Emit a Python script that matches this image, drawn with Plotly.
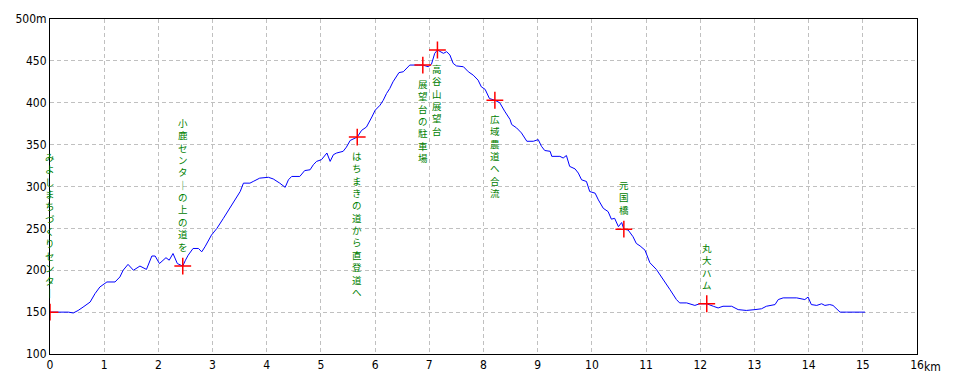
import plotly.graph_objects as go

# ---- profile data (distance km, elevation m) ----
distance_km = [
    0.00, 0.34, 0.43, 0.52, 0.61, 0.74, 0.83, 0.92, 1.05, 1.20,
    1.29, 1.35, 1.44, 1.54, 1.66, 1.78, 1.88, 1.94, 2.02, 2.14,
    2.20, 2.27, 2.35, 2.40, 2.45, 2.50, 2.55, 2.64, 2.74, 2.80,
    2.86, 2.98, 3.08, 3.20, 3.32, 3.41, 3.51, 3.57, 3.69, 3.75,
    3.87, 4.03, 4.12, 4.24, 4.34, 4.40, 4.46, 4.61, 4.70, 4.80,
    4.86, 4.92, 5.01, 5.11, 5.17, 5.23, 5.29, 5.41, 5.47, 5.54,
    5.60, 5.67, 5.75, 5.84, 5.94, 6.00, 6.09, 6.15, 6.21, 6.27,
    6.33, 6.40, 6.44, 6.52, 6.58, 6.64, 6.80, 6.88, 6.98, 7.04,
    7.10, 7.15, 7.26, 7.32, 7.38, 7.44, 7.50, 7.63, 7.72, 7.81,
    7.90, 7.96, 8.03, 8.11, 8.21, 8.30, 8.39, 8.49, 8.52, 8.61,
    8.70, 8.80, 8.92, 9.01, 9.07, 9.13, 9.23, 9.26, 9.41, 9.47,
    9.53, 9.59, 9.69, 9.75, 9.81, 9.90, 9.96, 10.06, 10.12, 10.21,
    10.30, 10.36, 10.42, 10.49, 10.55, 10.59, 10.67, 10.76, 10.82, 10.89,
    10.98, 11.07, 11.19, 11.32, 11.44, 11.56, 11.62, 11.75, 11.90, 11.99,
    12.12, 12.24, 12.33, 12.42, 12.58, 12.70, 12.85, 13.01, 13.13, 13.22,
    13.32, 13.38, 13.44, 13.53, 13.78, 13.93, 13.99, 14.05, 14.15, 14.24,
    14.30, 14.39, 14.45, 14.58, 14.70, 15.04,
]

elevation_m = [
    150, 150, 149, 152, 156, 162, 172, 180, 186, 186,
    192, 200, 207, 200, 205, 201, 217, 217, 208, 215,
    212, 220, 208, 206, 205, 212, 218, 226, 226, 222,
    228, 242, 250, 262, 274, 284, 294, 304, 304, 306,
    310, 311, 309, 304, 299, 308, 312, 312, 319, 320,
    326, 330, 332, 340, 330, 338, 340, 342, 347, 355,
    357, 359, 367, 371, 383, 391, 397, 403, 411, 417,
    425, 433, 436, 437, 441, 445, 445, 445, 443, 446,
    459, 463, 459, 461, 457, 447, 444, 443, 437, 433,
    427, 419, 416, 405, 403, 400, 390, 380, 374, 370,
    364, 354, 354, 356, 348, 343, 342, 336, 336, 334,
    337, 324, 321, 316, 308, 306, 294, 292, 284, 274,
    270, 261, 262, 252, 257, 249, 248, 240, 232, 229,
    224, 209, 201, 189, 177, 165, 161, 161, 158, 160,
    160, 157, 155, 157, 157, 153, 152, 153, 154, 157,
    158, 159, 165, 167, 167, 165, 168, 159, 158, 160,
    158, 159, 158, 150, 150, 150,
]

# ---- waypoints ----
wp_km = [0.00, 2.45, 5.67, 6.88, 7.15, 8.21, 10.59, 12.12]
wp_elev = [150, 205, 359, 445, 463, 403, 249, 160]
wp_names = [
    "みよしまちづくりセンター",
    "小鹿センターの上の道を",
    "はちまきの道から直登道へ",
    "展望台の駐車場",
    "高谷山展望台",
    "広域農道へ合流",
    "元国橋",
    "丸大ハム",
]
wp_side = ["above", "above", "below", "below", "below", "below", "above", "above"]

# ---- axis ticks ----
x_ticks = list(range(0, 17))
x_labels = [str(v) for v in range(0, 17)]
y_ticks = [100, 150, 200, 250, 300, 350, 400, 450, 500]
y_labels = ["100", "150", "200", "250", "300", "350", "400", "450", "500m"]

TICK_FONT = dict(family="Liberation Sans Narrow, DejaVu Sans Condensed, sans-serif",
                 size=12, color="black")
LABEL_FONT = dict(family="Noto Sans CJK JP, sans-serif", size=9.5, color="#008000")
GAP = 11

fig = go.Figure()
fig.add_trace(go.Scatter(x=distance_km, y=elevation_m, mode="lines",
                         line=dict(color="#0000ff", width=1), hoverinfo="skip",
                         showlegend=False))
fig.add_trace(go.Scatter(x=wp_km, y=wp_elev, mode="markers",
                         marker=dict(symbol="cross-thin", size=12,
                                     line=dict(color="#ff0000", width=1.5)),
                         hoverinfo="skip", showlegend=False))

# vertical (tategaki) labels: one character per line
for xk, ye, name, side in zip(wp_km, wp_elev, wp_names, wp_side):
    chars = ["｜" if c == "ー" else c for c in name]
    text = "<br>".join(chars)
    if side == "above":
        fig.add_annotation(x=xk, y=ye, xref="x", yref="y", text=text,
                           showarrow=False, xanchor="center", yanchor="bottom",
                           yshift=GAP, borderpad=0, font=LABEL_FONT)
    else:
        fig.add_annotation(x=xk, y=ye, xref="x", yref="y", text=text,
                           showarrow=False, xanchor="center", yanchor="top",
                           yshift=-GAP, borderpad=0, font=LABEL_FONT)

# unit after the last x tick
fig.add_annotation(x=x_ticks[-1], y=0, xref="x", yref="paper", text="km",
                   showarrow=False, xanchor="left", yanchor="top",
                   xshift=5, yshift=-4, font=TICK_FONT)

fig.update_xaxes(range=[0, 16], tickvals=x_ticks, ticktext=x_labels,
                 showline=True, linecolor="black", linewidth=1, mirror=True,
                 showgrid=True, gridcolor="#c0c0c0", gridwidth=1, griddash="4px,3px",
                 zeroline=False, ticks="", tickfont=TICK_FONT, automargin=False)
fig.update_yaxes(range=[100, 500], tickvals=y_ticks, ticktext=y_labels,
                 showline=True, linecolor="black", linewidth=1, mirror=True,
                 showgrid=True, gridcolor="#c0c0c0", gridwidth=1, griddash="4px,3px",
                 zeroline=False, ticks="", tickfont=TICK_FONT, automargin=False)

fig.update_layout(width=960, height=384,
                  margin=dict(l=50, r=43, t=19, b=30),
                  paper_bgcolor="white", plot_bgcolor="white",
                  showlegend=False)

fig.write_html("out.html", config={"displayModeBar": False},
               post_script="document.body.style.margin='0';document.body.style.padding='0';")
